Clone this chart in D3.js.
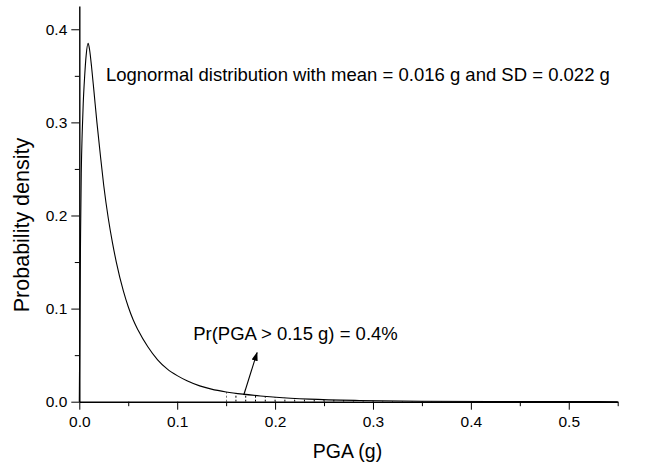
<!DOCTYPE html>
<html>
<head>
<meta charset="utf-8">
<script src="https://cdn.jsdelivr.net/npm/d3@7"></script>
<style>
  body { margin: 0; background: #fff; }
  svg { font-family: "Liberation Sans", Arial, sans-serif; }
  .axis path, .axis line { stroke: #000; }
  .axis text { font-size: 15.5px; fill: #000; }
</style>
</head>
<body>
<script>
// values
var pga = [0, 0.0007, 0.0013, 0.002, 0.003, 0.004, 0.0055, 0.007, 0.009, 0.0105, 0.0125, 0.015, 0.018,
           0.0215, 0.025, 0.0296, 0.034, 0.0378, 0.045, 0.050, 0.055, 0.060, 0.070, 0.080, 0.090, 0.100,
           0.110, 0.123, 0.135, 0.150, 0.167, 0.185, 0.201, 0.235, 0.286, 0.35, 0.42, 0.50, 0.55];
var density = [0, 0.10, 0.18, 0.245, 0.29, 0.32, 0.35, 0.372, 0.385, 0.378, 0.360, 0.333, 0.300,
               0.265, 0.232, 0.197, 0.170, 0.150, 0.119, 0.102, 0.088, 0.077, 0.059, 0.045, 0.035, 0.028,
               0.0225, 0.017, 0.0135, 0.0105, 0.0081, 0.0062, 0.0048, 0.0028, 0.0013, 0.0005, 0.0002, 0.0001, 0];
var xMajor = [0, 0.1, 0.2, 0.3, 0.4, 0.5];
var xMinor = [0.05, 0.15, 0.25, 0.35, 0.45, 0.55];
var yMajor = [0, 0.1, 0.2, 0.3, 0.4];
var yMinor = [0.05, 0.15, 0.25, 0.35];
var threshold = 0.15;
var hatchX = [0.15, 0.16, 0.17, 0.18, 0.19, 0.20, 0.21, 0.22, 0.23, 0.24, 0.25, 0.26, 0.27, 0.28, 0.29,
              0.30, 0.31, 0.32, 0.33, 0.34, 0.35, 0.36, 0.37, 0.38, 0.39];
var arrowFrom = [0.168, 0.0072], arrowTo = [0.1816, 0.0527];
var titleText = "Lognormal distribution with mean = 0.016 g and SD = 0.022 g";
var titlePos = [0.0272, 0.344];
var probText = "Pr(PGA > 0.15 g) = 0.4%";
var probPos = [0.1163, 0.0663];

var data = pga.map(function(d, i) { return {x: d, y: density[i]}; });

var margin = {top: 6, right: 37.3, bottom: 64.3, left: 79.3},
    width = 655 - margin.left - margin.right,
    height = 466 - margin.top - margin.bottom;

var svg = d3.select("body").append("svg")
    .attr("width", 655)
    .attr("height", 466)
  .append("g")
    .attr("transform", "translate(" + margin.left + "," + margin.top + ")");

var x = d3.scaleLinear().domain([0, 0.55]).range([0, width]),
    y = d3.scaleLinear().domain([0, 0.425]).range([height, 0]);

var line = d3.line()
    .curve(d3.curveMonotoneX)
    .x(function(d) { return x(d.x); })
    .y(function(d) { return y(d.y); });

// hatched tail, clipped to the area under the curve past the threshold
var tail = data.filter(function(d) { return d.x >= threshold; });
var area = d3.area()
    .curve(d3.curveMonotoneX)
    .x(function(d) { return x(d.x); })
    .y0(height)
    .y1(function(d) { return y(d.y); });

svg.append("clipPath").attr("id", "tailClip")
  .append("path")
    .attr("d", area(tail));

svg.append("g")
    .attr("clip-path", "url(#tailClip)")
  .selectAll("line")
  .data(hatchX).enter()
  .append("line")
    .attr("x1", function(d) { return x(d); })
    .attr("x2", function(d) { return x(d); })
    .attr("y1", height)
    .attr("y2", 0)
    .attr("stroke", "#000")
    .attr("stroke-width", 1)
    .attr("stroke-dasharray", "2,2");

// axes: major ticks with labels, minor ticks without
svg.append("g")
    .attr("class", "axis")
    .attr("transform", "translate(0," + height + ")")
    .call(d3.axisBottom(x).tickValues(xMinor).tickSize(4.5).tickFormat(""))
    .call(function(g) { g.select(".domain").remove(); });
svg.append("g")
    .attr("class", "axis")
    .attr("transform", "translate(0," + height + ")")
    .call(d3.axisBottom(x).tickValues(xMajor).tickSize(8).tickSizeOuter(0).tickPadding(6).tickFormat(d3.format(".1f")))
    .call(function(g) { g.select(".domain").attr("stroke-width", 1.6); });

svg.append("g")
    .attr("class", "axis")
    .call(d3.axisLeft(y).tickValues(yMinor).tickSize(4.5).tickFormat(""))
    .call(function(g) { g.select(".domain").remove(); });
svg.append("g")
    .attr("class", "axis")
    .call(d3.axisLeft(y).tickValues(yMajor).tickSize(8).tickSizeOuter(0).tickPadding(4).tickFormat(d3.format(".1f")))
    .call(function(g) { g.select(".domain").attr("stroke-width", 1.4); });

// density curve
svg.append("path")
    .datum(data)
    .attr("fill", "none")
    .attr("stroke", "#000")
    .attr("stroke-width", 1.1)
    .attr("d", line);

// arrow to the tail
svg.append("defs").append("marker")
    .attr("id", "head")
    .attr("viewBox", "0 0 10 10")
    .attr("refX", 9).attr("refY", 5)
    .attr("markerWidth", 9).attr("markerHeight", 9)
    .attr("markerUnits", "userSpaceOnUse")
    .attr("orient", "auto")
  .append("path")
    .attr("d", "M0,1.5L10,5L0,8.5Z")
    .attr("fill", "#000");

svg.append("line")
    .attr("x1", x(arrowFrom[0])).attr("y1", y(arrowFrom[1]))
    .attr("x2", x(arrowTo[0])).attr("y2", y(arrowTo[1]))
    .attr("stroke", "#000")
    .attr("stroke-width", 1.1)
    .attr("marker-end", "url(#head)");

// annotations
svg.append("text")
    .attr("x", x(titlePos[0])).attr("y", y(titlePos[1]))
    .style("font-size", "18.5px")
    .text(titleText);
svg.append("text")
    .attr("x", x(probPos[0])).attr("y", y(probPos[1]))
    .style("font-size", "18.5px")
    .text(probText);

// axis titles
svg.append("text")
    .attr("x", width / 2 - 1)
    .attr("y", height + 56.5)
    .attr("text-anchor", "middle")
    .style("font-size", "19.5px")
    .text("PGA (g)");
svg.append("text")
    .attr("transform", "rotate(-90)")
    .attr("x", -(225 - margin.top))
    .attr("y", -50)
    .attr("text-anchor", "middle")
    .style("font-size", "21.5px")
    .text("Probability density");
</script>
</body>
</html>
